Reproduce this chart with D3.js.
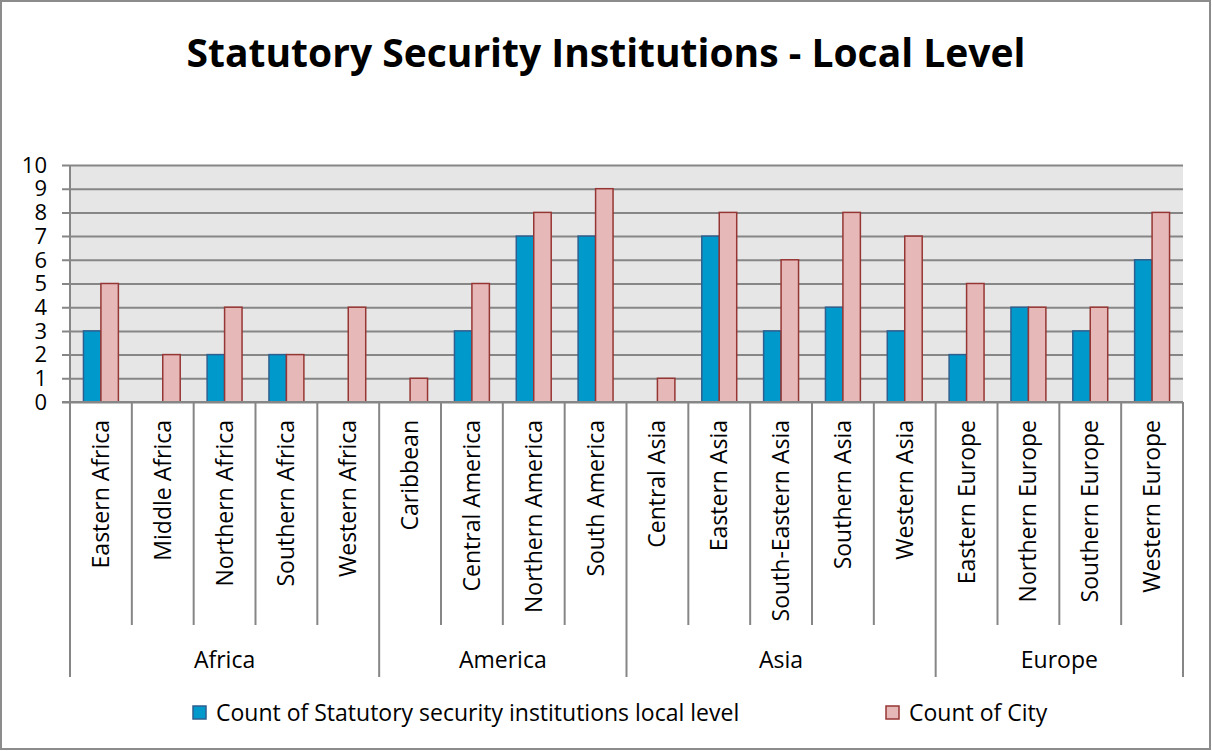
<!DOCTYPE html>
<html>
<head>
<meta charset="utf-8">
<script src="https://cdn.jsdelivr.net/npm/d3@7"></script>
<style>
  body { margin: 0; background: #fff; }
  text { font-family: "Open Sans", Lato, sans-serif; fill: #000; }
</style>
</head>
<body>
<svg id="chart" width="1212" height="751"></svg>
<script>
// data
var groups = ["Africa", "America", "Asia", "Europe"];
var regions = [
  "Eastern Africa", "Middle Africa", "Northern Africa", "Southern Africa", "Western Africa",
  "Caribbean", "Central America", "Northern America", "South America",
  "Central Asia", "Eastern Asia", "South-Eastern Asia", "Southern Asia", "Western Asia",
  "Eastern Europe", "Northern Europe", "Southern Europe", "Western Europe"
];
var regionGroup = [
  "Africa", "Africa", "Africa", "Africa", "Africa",
  "America", "America", "America", "America",
  "Asia", "Asia", "Asia", "Asia", "Asia",
  "Europe", "Europe", "Europe", "Europe"
];
var institutions = [3, 0, 2, 2, 0, 0, 3, 7, 7, 0, 7, 3, 4, 3, 2, 4, 3, 6];
var cities = [5, 2, 4, 2, 4, 1, 5, 8, 9, 1, 8, 6, 8, 7, 5, 4, 4, 8];
var seriesNames = ["Count of Statutory security institutions local level", "Count of City"];
var yTicks = [0, 1, 2, 3, 4, 5, 6, 7, 8, 9, 10];

var fills = ["#0099cc", "#e6b9b8"];
var strokes = ["#2e5f8f", "#963634"];

var svg = d3.select("#chart");

// outer frame
svg.append("rect")
  .attr("x", 1).attr("y", 1).attr("width", 1209).attr("height", 748)
  .attr("fill", "#fff").attr("stroke", "#8c8c8c").attr("stroke-width", 2);

svg.append("text")
  .attr("x", 606).attr("y", 67)
  .attr("text-anchor", "middle")
  .attr("font-size", 39).attr("font-weight", "bold")
  .text("Statutory Security Institutions - Local Level");

var plotL = 70, plotR = 1183, plotT = 165, plotB = 402;

var x0 = d3.scaleBand().domain(regions).range([plotL, plotR]).padding(0);
var x1 = d3.scaleBand().domain([0, 1]).range([0, x0.bandwidth()])
  .paddingInner(0).paddingOuter(0.77);
var y = d3.scaleLinear().domain([0, 10]).range([plotB, plotT]);

// plot background
svg.append("rect")
  .attr("x", plotL).attr("y", plotT)
  .attr("width", plotR - plotL).attr("height", plotB - plotT)
  .attr("fill", "#e6e6e6");

// gridlines + left ticks
var yAxis = d3.axisLeft(y).tickValues(yTicks).tickSize(-(plotR - plotL)).tickFormat("");
var gy = svg.append("g").attr("transform", "translate(" + plotL + ",0)").call(yAxis);
gy.select(".domain").remove();
gy.selectAll("line").attr("x1", -8).attr("stroke", "#868686").attr("stroke-width", 2);

svg.append("g").selectAll("text").data(yTicks).enter()
  .append("text")
  .attr("x", 47).attr("y", function(d) { return y(d); })
  .attr("dy", "0.35em")
  .attr("text-anchor", "end")
  .attr("font-size", 22)
  .text(function(d) { return d; });

// bars
var rows = regions.map(function(r, i) { return { region: r, vals: [institutions[i], cities[i]] }; });
var cat = svg.append("g").selectAll("g").data(rows).enter()
  .append("g")
  .attr("transform", function(d) { return "translate(" + x0(d.region) + ",0)"; });

cat.selectAll("rect")
  .data(function(d) { return d.vals.map(function(v, k) { return { k: k, v: v }; }); })
  .enter()
  .filter(function(d) { return d.v > 0; })
  .append("rect")
  .attr("x", function(d) { return x1(d.k); })
  .attr("y", function(d) { return y(d.v); })
  .attr("width", x1.bandwidth())
  .attr("height", function(d) { return plotB - y(d.v); })
  .attr("fill", function(d) { return fills[d.k]; })
  .attr("stroke", function(d) { return strokes[d.k]; })
  .attr("stroke-width", 1.5);

// axes lines
svg.append("line").attr("x1", plotL).attr("x2", plotL).attr("y1", plotT).attr("y2", plotB)
  .attr("stroke", "#868686").attr("stroke-width", 2);
svg.append("line").attr("x1", plotL - 8).attr("x2", plotR).attr("y1", plotB).attr("y2", plotB)
  .attr("stroke", "#868686").attr("stroke-width", 2);

// category separators
var catEnd = 625, grpEnd = 677;
var bounds = regions.map(function(r, i) {
  var isGroupStart = i === 0 || regionGroup[i] !== regionGroup[i - 1];
  return { x: x0(r), long: isGroupStart };
});
bounds.push({ x: plotR, long: true });
svg.append("g").selectAll("line").data(bounds).enter()
  .append("line")
  .attr("x1", function(d) { return d.x; }).attr("x2", function(d) { return d.x; })
  .attr("y1", plotB).attr("y2", function(d) { return d.long ? grpEnd : catEnd; })
  .attr("stroke", "#868686").attr("stroke-width", 2);

// rotated region labels
svg.append("g").selectAll("text").data(regions).enter()
  .append("text")
  .attr("transform", function(d) {
    return "translate(" + (x0(d) + x0.bandwidth() / 2) + ",420) rotate(-90)";
  })
  .attr("dy", "0.35em")
  .attr("text-anchor", "end")
  .attr("font-size", 23)
  .text(function(d) { return d; });

// group labels
svg.append("g").selectAll("text").data(groups).enter()
  .append("text")
  .attr("x", function(g) {
    var idx = regionGroup.map(function(rg, i) { return rg === g ? i : -1; }).filter(function(i) { return i >= 0; });
    var a = x0(regions[idx[0]]), b = x0(regions[idx[idx.length - 1]]) + x0.bandwidth();
    return (a + b) / 2;
  })
  .attr("y", 660)
  .attr("dy", "0.35em")
  .attr("text-anchor", "middle")
  .attr("font-size", 23)
  .text(function(d) { return d; });

// legend
var legX = [193, 886];
var leg = svg.append("g").selectAll("g").data(seriesNames).enter()
  .append("g")
  .attr("transform", function(d, i) { return "translate(" + legX[i] + ",706)"; });
leg.append("rect")
  .attr("width", 13).attr("height", 13)
  .attr("fill", function(d, i) { return fills[i]; })
  .attr("stroke", function(d, i) { return strokes[i]; })
  .attr("stroke-width", 1.5);
leg.append("text")
  .attr("x", 23).attr("y", 7)
  .attr("dy", "0.35em")
  .attr("font-size", 23)
  .text(function(d) { return d; });
</script>
</body>
</html>
